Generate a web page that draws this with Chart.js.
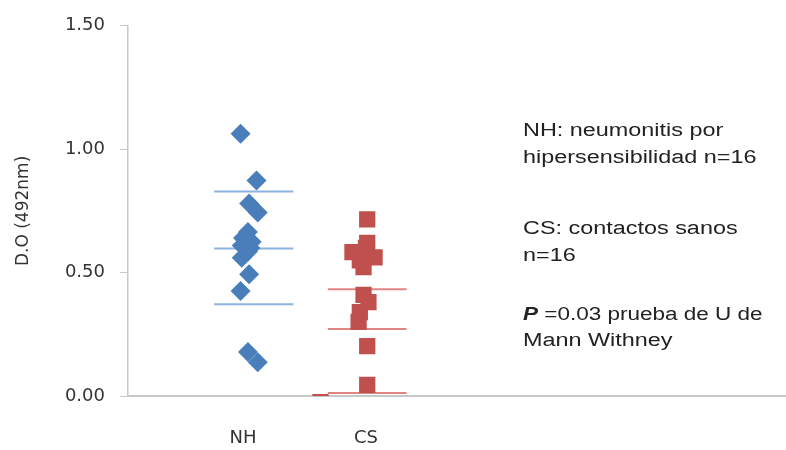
<!doctype html>
<html>

<head>
	<title>D.O NH vs CS</title>
	<script src="https://cdn.jsdelivr.net/npm/chart.js@4.4.1/dist/chart.umd.min.js"></script>
	<style>
	html, body {
		margin: 0;
		padding: 0;
		background: #fff;
	}
	canvas {
		display: block;
	}
	</style>
</head>

<body>
	<canvas id="chart" width="786" height="450"></canvas>
	<script>
		// groups on the x axis
		var groups = ['NH', 'CS'];
		var groupPos = [1, 2];

		// NH values (D.O at 492nm) and their horizontal jitter around the group
		var nhValues = [1.063, 0.873, 0.780, 0.744, 0.665, 0.640, 0.630, 0.625, 0.610, 0.600, 0.585, 0.560, 0.493, 0.425, 0.178, 0.137];
		var nhJitter = [-0.02, 0.11, 0.05, 0.12, 0.04, 0.00, 0.03, 0.07, -0.01, 0.06, 0.04, -0.01, 0.05, -0.02, 0.04, 0.12];

		// CS values and jitter
		var csValues = [0.716, 0.620, 0.600, 0.583, 0.562, 0.550, 0.522, 0.410, 0.380, 0.340, 0.300, 0.202, 0.045, -0.025];
		var csJitter = [0.01, 0.01, 0.00, -0.11, 0.07, -0.05, -0.02, -0.02, 0.02, -0.05, -0.06, 0.01, 0.01, -0.37];

		// mean and mean +/- SD lines: [upper, mean, lower]
		var nhLines = [0.829, 0.598, 0.372];
		var csLines = [0.433, 0.271, 0.012];
		var nhLineSpan = [-0.235, 0.41];
		var csLineSpan = [-0.31, 0.33];

		var yTicks = [0, 0.5, 1.0, 1.5];

		var notes = [
			{ y: 131, sx: 1.3, parts: [['NH: neumonitis por', '']] },
			{ y: 158, sx: 1.3, parts: [['hipersensibilidad n=16', '']] },
			{ y: 229, sx: 1.3, parts: [['CS: contactos sanos', '']] },
			{ y: 256, sx: 1.3, parts: [['n=16', '']] },
			{ y: 315, sx: 1.25, parts: [['P', 'italic bold '], [' =0.03 prueba de U de', '']] },
			{ y: 341, sx: 1.3, parts: [['Mann Withney', '']] }
		];

		function pts(values, jitter, base) {
			return values.map(function(v, i) {
				return { x: base + jitter[i], y: v };
			});
		}

		function lineSet(vals, span, base, color) {
			return vals.map(function(v) {
				return {
					type: 'line',
					data: [{ x: base + span[0], y: v }, { x: base + span[1], y: v }],
					borderColor: color,
					borderWidth: 2,
					pointRadius: 0,
					fill: false
				};
			});
		}

		// the source text is drawn a bit wide, so stretch it horizontally
		var notesPlugin = {
			id: 'notes',
			afterDraw: function(chart) {
				var ctx = chart.ctx;
				notes.forEach(function(line) {
					ctx.save();
					ctx.translate(523, line.y);
					ctx.scale(line.sx, 1);
					ctx.fillStyle = '#222';
					ctx.textBaseline = 'middle';
					var x = 0;
					line.parts.forEach(function(p) {
						ctx.font = p[1] + '18px "Liberation Sans", Arial, sans-serif';
						ctx.fillText(p[0], x, 0);
						x += ctx.measureText(p[0]).width;
					});
					ctx.restore();
				});
			}
		};

		var datasets = [{
			label: 'NH',
			data: pts(nhValues, nhJitter, groupPos[0]),
			pointStyle: 'rectRot',
			pointRadius: 10,
			backgroundColor: '#4A7EBB',
			borderColor: '#4A7EBB',
			borderWidth: 0
		}, {
			label: 'CS',
			data: pts(csValues, csJitter, groupPos[1]),
			pointStyle: 'rect',
			pointRadius: 11.5,
			backgroundColor: '#C0504D',
			borderColor: '#C0504D',
			borderWidth: 0,
			clip: 0
		}].concat(
			lineSet(nhLines, nhLineSpan, groupPos[0], 'rgba(120,165,215,0.85)'),
			lineSet(csLines, csLineSpan, groupPos[1], 'rgba(220,110,110,0.85)')
		);

		new Chart(document.getElementById('chart'), {
			type: 'scatter',
			data: { datasets: datasets },
			options: {
				responsive: false,
				animation: false,
				events: [],
				layout: { autoPadding: false, padding: { top: 25, right: 0, left: 0, bottom: 0 } },
				plugins: {
					legend: { display: false },
					tooltip: { enabled: false }
				},
				scales: {
					x: {
						type: 'linear',
						min: 0.065,
						max: 5.415,
						afterFit: function(s) {
							s.height = 54;
							s.paddingLeft = 0;
							s.paddingRight = 0;
						},
						afterBuildTicks: function(s) {
							s.ticks = groupPos.map(function(v) { return { value: v }; });
						},
						ticks: {
							padding: 32,
							color: '#333',
							font: { family: '"DejaVu Sans", sans-serif', size: 18 },
							callback: function(v) { return groups[groupPos.indexOf(v)]; }
						},
						grid: { display: false, drawTicks: false },
						border: { display: true, color: '#c8c8c8', width: 2 }
					},
					y: {
						min: 0,
						max: 1.5,
						afterFit: function(s) { s.width = 128; },
						afterBuildTicks: function(s) {
							s.ticks = yTicks.map(function(v) { return { value: v }; });
						},
						ticks: {
							padding: 15,
							color: '#333',
							font: { family: '"DejaVu Sans", sans-serif', size: 18 },
							callback: function(v) { return v.toFixed(2); }
						},
						grid: { drawOnChartArea: false, tickLength: 8, color: '#c8c8c8' },
						border: { display: true, color: '#c8c8c8', width: 1.5 },
						title: {
							display: true,
							text: 'D.O (492nm)',
							color: '#333',
							padding: { top: 13, bottom: 0 },
							font: { family: '"DejaVu Sans", sans-serif', size: 17 }
						}
					}
				}
			},
			plugins: [notesPlugin]
		});
	</script>
</body>

</html>
